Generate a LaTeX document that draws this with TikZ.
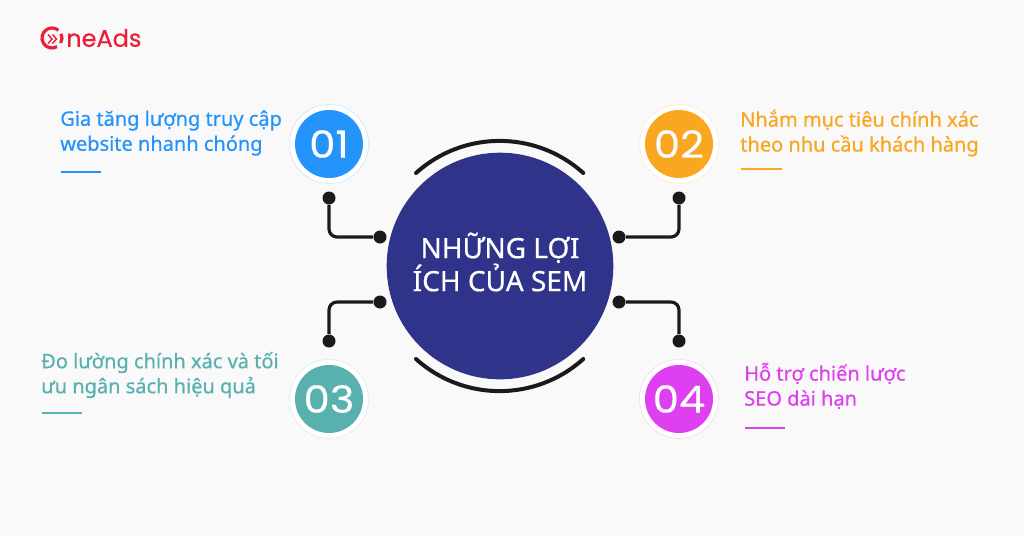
\documentclass[tikz,border=0pt]{standalone}
\usepackage{fontspec}
\setmainfont{Noto Sans}[FakeBold=0.6,FakeStretch=1.0]
\newfontfamily\digitfont{Poppins}[FakeBold=0.3,FakeStretch=1.12]
\newfontfamily\logofont{Poppins}[FakeBold=0.5]
\definecolor{pagebg}{HTML}{F9F9F9}
\definecolor{navy}{HTML}{2F3389}
\definecolor{ink}{HTML}{1A1A1A}
\definecolor{oneblue}{HTML}{2494FB}
\definecolor{twoorange}{HTML}{F9A620}
\definecolor{threeteal}{HTML}{58B0AF}
\definecolor{fourpink}{HTML}{DE40F1}
\definecolor{logored}{HTML}{E8203A}
\tikzset{
  badge/.style={circle, minimum size=51pt, inner sep=0pt, text=white, font=\digitfont\fontsize{28}{28}\selectfont},
  halo/.style={circle, minimum size=59.25pt, inner sep=0pt, fill=white, draw=#1!25, line width=0.4pt},
  dot/.style={circle, minimum size=9.75pt, inner sep=0pt, fill=ink},
  link/.style={ink, line width=2.4pt, rounded corners=6pt},
  caption/.style={anchor=west, align=left, inner sep=0pt, font=\fontsize{15}{18.75}\selectfont},
  rule/.style={line width=1pt}
}
\begin{document}
\begin{tikzpicture}[x=0.75pt,y=-0.75pt]
\fill[pagebg] (0,0) rectangle (1024,536);
\useasboundingbox (0,0) rectangle (1024,536);
% logo
\coordinate (logoc) at (52,38);
\draw[logored, line width=2.4pt] ([shift={(60:10)}]logoc) arc[start angle=60, end angle=310, radius=10];
\draw[logored, line width=2.4pt] ([shift={(-25:10)}]logoc) arc[start angle=-25, end angle=30, radius=10];
\draw[logored, line width=1.1pt] (48,34.5) -- (52,39) -- (48,43.5) (52.5,34.5) -- (56.5,39) -- (52.5,43.5);
\node[anchor=west, inner sep=0pt, text=logored, font=\logofont\fontsize{18}{18}\selectfont] (logo) at (66,38) {neAds};
% centre
\node[circle, minimum size=170pt, inner sep=0pt, fill=navy] (sem) at (500,266) {};
\node[align=center, text=white, inner sep=0pt, font=\fontsize{21}{24.75}\selectfont] (semtext) at (500,262) {NHỮNG LỢI\\ÍCH CỦA SEM};
\draw[ink, line width=3pt, line cap=round] (416,173) arc[start angle=-132, end angle=-48, radius=125];
\draw[ink, line width=3pt, line cap=round] (416,359) arc[start angle=132, end angle=48, radius=125];
% numbers
\node[halo=oneblue] at (329,144) {};
\node[badge, fill=oneblue] (one) at (329,144) {01};
\node[halo=twoorange] at (679,144) {};
\node[badge, fill=twoorange] (two) at (679,144) {02};
\node[halo=threeteal] at (329,399) {};
\node[badge, fill=threeteal] (three) at (329,399) {03};
\node[halo=fourpink] at (679,399) {};
\node[badge, fill=fourpink] (four) at (679,399) {04};
% links
\node[dot] (d1a) at (329,198) {};
\node[dot] (d1b) at (380,237) {};
\node[dot] (d2a) at (679,198) {};
\node[dot] (d2b) at (619,237) {};
\node[dot] (d3a) at (329,341) {};
\node[dot] (d3b) at (380,302) {};
\node[dot] (d4a) at (679,341) {};
\node[dot] (d4b) at (619,302) {};
\draw[link] (d1a) |- (d1b);
\draw[link] (d2a) |- (d2b);
\draw[link] (d3a) |- (d3b);
\draw[link] (d4a) |- (d4b);
% captions
\node[caption, text=oneblue] (t1) at (60,133) {Gia tăng lượng truy cập\\website nhanh chóng};
\node[caption, text=twoorange] (t2) at (740,133) {Nhắm mục tiêu chính xác\\theo nhu cầu khách hàng};
\node[caption, text=threeteal] (t3) at (41,375) {Đo lường chính xác và tối\\ưu ngân sách hiệu quả};
\node[caption, text=fourpink] (t4) at (744,386) {Hỗ trợ chiến lược\\SEO dài hạn};
\draw[rule, oneblue] (61,172) -- (101,172);
\draw[rule, twoorange] (741,169) -- (782,169);
\draw[rule, threeteal] (42,413) -- (82,413);
\draw[rule, fourpink] (745,428) -- (785,428);
\end{tikzpicture}
\end{document}
